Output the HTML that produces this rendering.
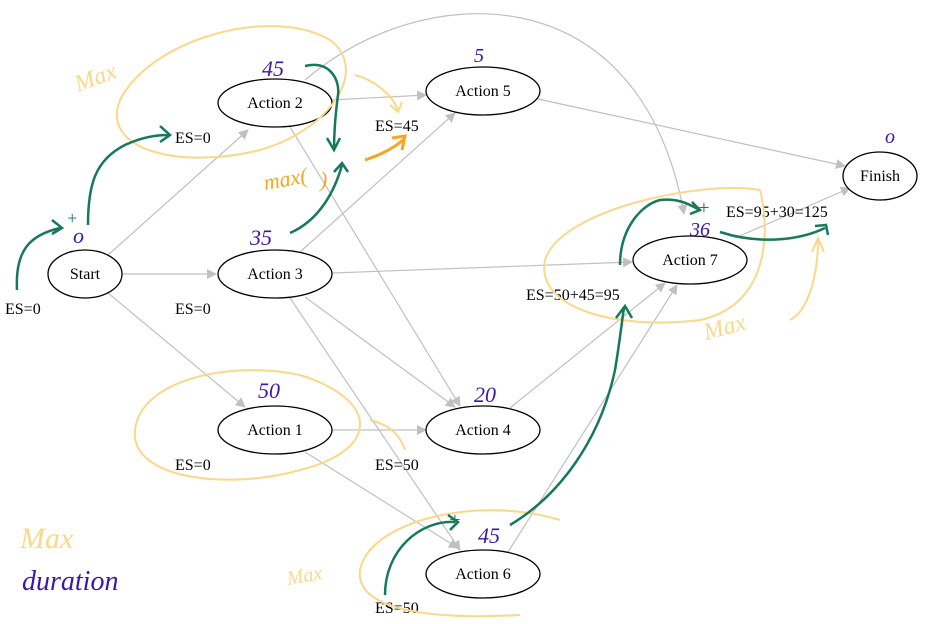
<!DOCTYPE html>
<html><head><meta charset="utf-8"><style>
html,body{margin:0;padding:0;background:#fff;}
svg{display:block}
text{font-family:"Liberation Serif",serif;font-size:16px;fill:#000}
.h{font-family:"Liberation Sans",sans-serif;font-style:italic}
</style></head><body>
<svg width="936" height="624" viewBox="0 0 936 624" xmlns="http://www.w3.org/2000/svg">
<defs>
<marker id="a" markerWidth="10" markerHeight="10" refX="9" refY="5" orient="auto" markerUnits="userSpaceOnUse">
<path d="M0,0 L10,5 L0,10 z" fill="#c0c0c0"/></marker>
</defs>
<g stroke="#c0c0c0" stroke-width="1.2" fill="none" marker-end="url(#a)">
<path d="M108,255 L248,130"/>
<path d="M122,274 L216,274"/>
<path d="M108,293 L245,407"/>
<path d="M331,100 L426,95"/>
<path d="M290,127 L460,406"/>
<path d="M305,80 C420,-20 640,-30 684,214"/>
<path d="M300,252 L455,113"/>
<path d="M332,273 L632,262"/>
<path d="M305,297 L455,407"/>
<path d="M290,298 L460,550"/>
<path d="M332,430 L426,430"/>
<path d="M305,452 L458,548"/>
<path d="M510,408 L665,283"/>
<path d="M508,552 L677,285"/>
<path d="M538,99 L845,166"/>
<path d="M735,238 L850,188"/>
</g>
<g fill="#fff" stroke="#000" stroke-width="1.3">
<ellipse cx="85" cy="274" rx="37" ry="24"/>
<ellipse cx="275" cy="103" rx="57" ry="24"/>
<ellipse cx="275" cy="274" rx="57" ry="24"/>
<ellipse cx="275" cy="430" rx="57" ry="24"/>
<ellipse cx="483" cy="91" rx="57" ry="24"/>
<ellipse cx="483" cy="430" rx="57" ry="24"/>
<ellipse cx="483" cy="574" rx="57" ry="24"/>
<ellipse cx="690" cy="260" rx="57" ry="24"/>
<ellipse cx="880" cy="176" rx="37" ry="24"/>
</g>
<g text-anchor="middle">
<text x="85" y="279">Start</text>
<text x="275" y="108">Action 2</text>
<text x="275" y="279">Action 3</text>
<text x="275" y="435">Action 1</text>
<text x="483" y="96">Action 5</text>
<text x="483" y="435">Action 4</text>
<text x="483" y="579">Action 6</text>
<text x="690" y="265">Action 7</text>
<text x="880" y="181">Finish</text>
</g>
<text x="5" y="314">ES=0</text>
<text x="175" y="143">ES=0</text>
<text x="175" y="314">ES=0</text>
<text x="175" y="470">ES=0</text>
<text x="375" y="131">ES=45</text>
<text x="375" y="470">ES=50</text>
<text x="375" y="613">ES=50</text>
<text x="526" y="300">ES=50+45=95</text>
<text x="726" y="217">ES=95+30=125</text>
<g stroke="#fbd889" stroke-width="2" fill="none">
<path d="M330,40 C270,5 150,40 120,100 C100,150 180,170 260,150 C330,130 370,70 330,40"/>
<path d="M300,375 C230,360 140,380 135,430 C130,480 230,490 300,470 C380,450 380,400 300,375"/>
<path d="M560,520 C480,495 370,520 360,570 C355,610 430,620 520,615"/>
<path d="M760,190 C700,180 560,210 545,260 C535,310 620,330 700,320 C770,305 770,230 760,190"/>
<path d="M790,320 C810,310 818,270 818,240 M812,252 L818,238 L824,252"/>
<path d="M355,75 C375,80 392,95 398,110 M390,105 L398,112 L402,102"/>
<path d="M370,420 C390,425 400,435 405,450"/>
</g>
<g class="h">
<text x="78" y="92" transform="rotate(-20 78 92)" style="font-size:24px;fill:#fbd889">Max</text>
<text x="20" y="548" style="font-size:30px;fill:#fbd889">Max</text>
<text x="288" y="585" transform="rotate(-10 288 585)" style="font-size:20px;fill:#fbd889">Max</text>
<text x="706" y="340" transform="rotate(-15 706 340)" style="font-size:24px;fill:#fbd889">Max</text>
<text x="265" y="190" transform="rotate(-10 265 190)" style="font-size:22px;fill:#f5a623">max(</text>
<text x="320" y="187" style="font-size:22px;fill:#f5a623">)</text>
</g>
<path d="M365,160 C380,155 395,148 405,138 M392,138 L405,136 L402,150" stroke="#f5a623" stroke-width="3" fill="none"/>
<g stroke="#16795a" stroke-width="2.5" fill="none">
<path d="M17,290 C15,250 30,235 60,228 M52,220 L62,228 L52,234"/>
<path d="M88,225 C88,185 95,160 125,145 C140,138 155,135 168,135 M160,126 L170,135 L160,142"/>
<path d="M305,66 C330,60 340,80 338,95 C336,110 334,130 334,150 M327,138 L334,150 L340,138"/>
<path d="M290,233 C320,220 335,190 342,165 M334,172 L342,163 L348,172"/>
<path d="M620,265 C620,230 640,205 660,200 C680,198 690,205 700,210 M692,202 L700,210 L690,214"/>
<path d="M720,232 C760,245 800,240 825,228 M815,226 L826,225 L828,235"/>
<path d="M385,595 C385,550 420,520 455,522 M448,515 L458,522 L450,530"/>
<path d="M510,525 C560,495 600,440 615,370 C620,340 622,320 624,308 M616,318 L625,306 L632,318"/>
</g>
<g class="h">
<text x="66" y="224" style="font-size:18px;fill:#16795a">+</text>
<text x="697" y="214" style="font-size:20px;fill:#16795a">+</text>
<text x="448" y="526" style="font-size:20px;fill:#16795a">+</text>
</g>
<g class="h">
<text x="73" y="243" style="font-size:22px;fill:#3b16a8">o</text>
<text x="262" y="76" style="font-size:22px;fill:#3b16a8">45</text>
<text x="250" y="245" style="font-size:22px;fill:#3b16a8">35</text>
<text x="474" y="62" style="font-size:20px;fill:#3b16a8">5</text>
<text x="258" y="398" style="font-size:22px;fill:#3b16a8">50</text>
<text x="474" y="402" style="font-size:22px;fill:#3b16a8">20</text>
<text x="478" y="543" style="font-size:22px;fill:#3b16a8">45</text>
<text x="690" y="236" style="font-size:20px;fill:#3b16a8">36</text>
<text x="885" y="143" style="font-size:20px;fill:#3b16a8">o</text>
<text x="22" y="590" style="font-size:28px;fill:#3b16a8">duration</text>
</g>
</svg>
</body></html>
